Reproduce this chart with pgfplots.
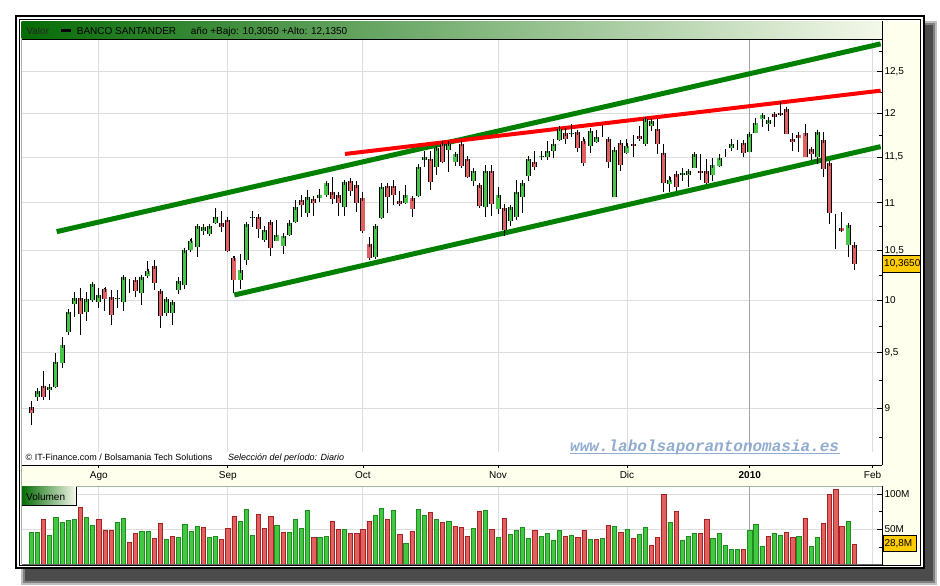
\documentclass[border=0pt]{standalone}
\usepackage{fontspec}
\setmainfont{Liberation Sans}
\newfontfamily\wmfont{Liberation Mono}
\usepackage{pgfplots}
\usepackage{pgfplotstable}
\pgfplotsset{compat=1.18}
\definecolor{cgreen}{RGB}{72,196,72}
\definecolor{cred}{RGB}{222,96,96}
\definecolor{vgreen}{RGB}{66,200,66}
\definecolor{vgreenD}{RGB}{30,140,30}
\definecolor{vred}{RGB}{226,96,96}
\definecolor{vredD}{RGB}{165,35,35}
\definecolor{gridc}{RGB}{221,221,221}
\definecolor{gridy}{RGB}{165,165,165}
\definecolor{tgreen}{RGB}{0,128,0}
\definecolor{tred}{RGB}{255,0,0}
\definecolor{paleyel}{RGB}{255,255,238}
\definecolor{gold}{RGB}{255,204,0}
\definecolor{hdark}{RGB}{6,108,6}
\definecolor{hlight}{RGB}{244,248,234}
\definecolor{wm}{RGB}{145,172,208}
\definecolor{frameline}{RGB}{160,180,160}

\pgfplotstableread{
x O H L C V g
0 9.01 9.06 8.85 8.96 45.8 1
1 9.10 9.18 9.06 9.15 45.8 1
2 9.20 9.33 9.07 9.10 64.2 0
3 9.16 9.20 9.07 9.19 41.5 1
4 9.19 9.50 9.18 9.42 67.0 1
5 9.41 9.65 9.36 9.57 59.9 1
6 9.70 9.90 9.67 9.89 62.7 1
7 9.96 10.08 9.84 10.02 64.2 1
8 10.02 10.12 9.67 9.87 81.1 0
9 9.89 10.08 9.80 10.01 67.0 1
10 10.00 10.18 9.98 10.16 55.7 1
11 9.98 10.12 9.93 10.05 64.2 0
12 10.11 10.12 9.90 10.01 49.1 0
13 10.03 10.10 9.76 9.86 49.1 0
14 10.01 10.10 9.93 10.02 59.9 1
15 9.98 10.25 9.90 10.23 65.6 1
16 10.17 10.21 10.07 10.17 31.6 0
17 10.20 10.23 10.03 10.09 44.3 0
18 10.07 10.25 9.95 10.23 47.2 1
19 10.24 10.39 10.22 10.29 47.2 1
20 10.34 10.40 10.10 10.17 37.3 0
21 10.09 10.10 9.73 9.85 58.5 0
22 9.88 10.01 9.85 10.01 35.8 1
23 9.88 9.99 9.76 9.98 40.1 0
24 10.10 10.23 10.06 10.19 38.7 1
25 10.15 10.50 10.11 10.50 57.1 1
26 10.50 10.62 10.48 10.60 47.2 1
27 10.53 10.76 10.43 10.75 54.2 1
28 10.70 10.77 10.66 10.74 52.8 0
29 10.67 10.76 10.65 10.75 38.7 1
30 10.78 10.94 10.77 10.85 40.1 1
31 10.78 10.91 10.69 10.74 35.8 0
32 10.82 10.83 10.48 10.49 51.4 0
33 10.42 10.44 10.07 10.20 68.4 0
34 10.20 10.46 10.11 10.30 61.3 1
35 10.40 10.77 10.35 10.77 78.3 1
36 10.84 10.91 10.74 10.85 41.5 1
37 10.85 10.86 10.63 10.72 71.2 0
38 10.61 10.75 10.59 10.71 51.4 0
39 10.79 10.79 10.44 10.52 68.4 0
40 10.60 10.81 10.60 10.66 55.7 1
41 10.54 10.67 10.46 10.65 45.8 0
42 10.66 10.82 10.65 10.78 45.8 1
43 10.79 11.03 10.78 10.95 64.2 1
44 11.03 11.08 10.85 10.97 51.4 1
45 10.89 11.14 10.85 11.06 76.9 1
46 11.04 11.05 10.86 11.00 38.7 0
47 11.05 11.15 11.01 11.08 38.7 1
48 11.08 11.23 11.06 11.21 40.1 1
49 11.11 11.28 10.98 11.04 61.3 0
50 11.08 11.11 10.86 11.00 50.0 0
51 10.95 11.22 10.86 11.22 50.0 1
52 11.24 11.25 11.07 11.13 44.3 0
53 11.19 11.23 10.90 11.00 44.3 0
54 11.05 11.12 10.68 10.70 50.0 0
55 10.56 10.64 10.40 10.42 61.3 0
56 10.43 10.76 10.41 10.75 69.8 1
57 10.84 11.21 10.83 11.17 79.7 1
58 11.18 11.19 10.89 11.06 64.2 0
59 11.18 11.25 10.97 11.08 76.9 1
60 11.02 11.13 10.96 10.99 42.9 0
61 11.00 11.19 10.99 11.08 30.2 1
62 11.05 11.06 10.85 10.93 47.2 0
63 11.07 11.39 11.06 11.39 78.3 1
64 11.47 11.57 11.39 11.50 69.8 1
65 11.48 11.57 11.14 11.22 74.1 0
66 11.39 11.61 11.30 11.60 64.2 1
67 11.65 11.66 11.43 11.45 59.9 0
68 11.58 11.66 11.33 11.65 61.3 1
69 11.45 11.56 11.40 11.53 54.2 0
70 11.65 11.67 11.38 11.40 52.8 0
71 11.48 11.48 11.27 11.28 40.1 0
72 11.24 11.38 11.18 11.35 51.4 1
73 11.19 11.20 10.94 10.96 75.5 0
74 10.95 11.41 10.85 11.35 76.9 1
75 11.35 11.41 10.86 10.99 50.0 0
76 10.93 11.17 10.88 11.08 38.7 1
77 10.94 10.99 10.65 10.71 65.6 0
78 10.80 10.97 10.75 10.95 42.9 1
79 10.85 11.25 10.82 11.12 48.6 1
80 11.06 11.25 10.89 11.21 52.8 1
81 11.29 11.48 11.24 11.48 37.3 1
82 11.45 11.57 11.36 11.39 48.6 0
83 11.50 11.57 11.47 11.51 40.1 1
84 11.50 11.68 11.47 11.57 44.3 1
85 11.57 11.70 11.49 11.65 34.4 1
86 11.69 11.85 11.68 11.82 48.6 1
87 11.77 11.83 11.65 11.70 40.1 0
88 11.76 11.88 11.73 11.77 41.5 1
89 11.78 11.79 11.56 11.60 38.7 0
90 11.68 11.73 11.40 11.43 48.6 0
91 11.63 11.82 11.55 11.80 35.8 1
92 11.67 11.81 11.66 11.73 35.8 0
93 11.84 11.87 11.73 11.84 37.3 1
94 11.70 11.73 11.38 11.44 55.7 0
95 11.06 11.58 11.06 11.58 54.2 1
96 11.66 11.69 11.34 11.41 45.8 0
97 11.55 11.70 11.53 11.63 50.0 1
98 11.65 11.75 11.50 11.62 37.3 0
99 11.74 11.85 11.68 11.71 42.9 1
100 11.65 11.95 11.62 11.93 52.8 1
101 11.85 11.93 11.80 11.91 27.4 0
102 11.82 11.93 11.54 11.65 38.7 0
103 11.55 11.65 11.12 11.21 99.5 0
104 11.20 11.29 11.12 11.25 59.9 1
105 11.31 11.35 11.13 11.17 75.5 0
106 11.30 11.38 11.24 11.32 34.4 1
107 11.30 11.37 11.17 11.34 40.1 1
108 11.38 11.53 11.38 11.53 44.3 1
109 11.35 11.53 11.25 11.32 44.3 0
110 11.34 11.48 11.20 11.21 64.2 0
111 11.30 11.49 11.23 11.41 37.3 1
112 11.40 11.54 11.39 11.49 44.3 1
113 11.55 11.59 11.50 11.55 27.4 1
114 11.60 11.70 11.57 11.65 21.7 1
115 11.65 11.69 11.58 11.65 21.7 1
116 11.66 11.66 11.50 11.55 21.7 0
117 11.56 11.76 11.56 11.76 48.6 1
118 11.77 11.95 11.77 11.89 57.1 1
119 11.93 12.00 11.84 11.98 25.9 1
120 11.88 11.96 11.80 11.92 40.1 0
121 11.99 12.00 11.84 11.96 44.3 1
122 12.00 12.135 11.97 11.98 41.5 1
123 12.05 12.06 11.76 11.76 45.8 0
124 11.71 11.77 11.57 11.67 38.7 0
125 11.75 11.78 11.56 11.72 40.1 1
126 11.77 11.88 11.50 11.50 65.6 0
127 11.59 11.59 11.47 11.54 25.9 1
128 11.50 11.79 11.42 11.78 38.7 1
129 11.69 11.79 11.28 11.37 58.5 0
130 11.43 11.44 10.77 10.89 99.5 0
131 10.85 10.86 10.51 10.85 106.6 0
132 10.73 10.90 10.69 10.70 54.2 0
133 10.55 10.77 10.43 10.76 61.3 1
134 10.55 10.59 10.305 10.365 28.8 0
}\data

\begin{document}
\begin{tikzpicture}[x=1pt,y=1pt,font=\fontsize{10}{12}\selectfont]
\path[fill=white] (0,0) rectangle (940,586);
% shadow
\fill[black!25] (21,1) rectangle (937,565);
\fill[black!50] (23,3) rectangle (935,563);
\fill[black!70] (25,5) rectangle (933,561);
% frame
\fill[white] (16,17.7) rectangle (923.7,570);
\draw[black, line width=2pt] (16,17.7) rectangle (923.7,570);
\draw[black, line width=0.9pt] (19.2,21) rectangle (920.7,566.8);
% panels
\fill[paleyel] (882,21.5) rectangle (920.2,564.5);
\fill[paleyel] (21.5,100) rectangle (882,121);
\shade[left color=hdark, right color=hlight] (21.5,547) rectangle (882,564.5);
\draw[frameline, line width=0.8pt] (21.5,21.5) -- (21.5,547);

% ---------------- price panel ----------------
\begin{axis}[
  at={(21.5pt,121pt)}, anchor=south west,
  width=860.5pt, height=426pt, scale only axis,
  xmin=-1.596, xmax=138.53,
  ymode=log, ymin=8.5155, ymax=12.905,
  axis x line*=bottom, axis y line*=right,
  x axis line style={-, black, line width=0.8pt},
  y axis line style={-, black, line width=0.8pt},
  tick align=inside,
  xtick={11,32,54,76,97,117,137},
  xticklabels={Ago,Sep,Oct,Nov,Dic,\textbf{2010},Feb},
  xtick style={draw=none},
  xticklabel style={anchor=base, yshift=-14pt, inner sep=0pt},
  ytick={9,9.5,10,10.5,11,11.5,12,12.5},
  yticklabels={9,{9,5},10,{10,5},11,{11,5},12,{12,5}},
  minor ytick={8.75,9.25,9.75,10.25,10.75,11.25,11.75,12.25,12.75},
  ytick style={black, line width=0.8pt},
  major tick length=5.5pt, minor tick length=3pt,
  yticklabel style={anchor=west, inner sep=0pt, xshift=2.3pt},
  tick label style={font=\fontsize{10}{12}\selectfont},
  ymajorgrids, major grid style={gridc, line width=0.9pt},
]
\draw[gridc, line width=0.9pt] (axis cs:11,8.627) -- (axis cs:11,12.905);
\draw[gridc, line width=0.9pt] (axis cs:32,8.627) -- (axis cs:32,12.905);
\draw[gridc, line width=0.9pt] (axis cs:54,8.627) -- (axis cs:54,12.905);
\draw[gridc, line width=0.9pt] (axis cs:76,8.627) -- (axis cs:76,12.905);
\draw[gridc, line width=0.9pt] (axis cs:97,8.627) -- (axis cs:97,12.905);
\draw[gridc, line width=0.9pt] (axis cs:137,8.627) -- (axis cs:137,12.905);
\draw[gridy, line width=0.9pt] (axis cs:117,8.627) -- (axis cs:117,12.905);
% trend lines
\addplot[tgreen, line width=5pt] coordinates {(4.136,10.693) (138.31,12.843)};
\addplot[tgreen, line width=5pt] coordinates {(33.06,10.052) (138.31,11.618)};
\addplot[tred, line width=4pt] coordinates {(51.08,11.535) (138.31,12.27)};
% wicks
\addplot[draw=none, mark=none,
  error bars/.cd, y dir=plus, y explicit, error mark=none,
  error bar style={draw=black, line width=1pt}]
  table[x=x, y=L, y error expr={\thisrow{H}-\thisrow{L}}] {\data};
% body outlines
\addplot[draw=none, mark=none,
  error bars/.cd, y dir=plus, y explicit, error mark=none,
  error bar style={draw=black, line width=5pt}]
  table[x=x, y expr={min(\thisrow{O},\thisrow{C})}, y error expr={abs(\thisrow{C}-\thisrow{O})}] {\data};
% green bodies
\addplot[draw=none, mark=none,
  restrict expr to domain={\thisrow{C}-\thisrow{O}}{0:10},
  error bars/.cd, y dir=plus, y explicit, error mark=-,
  error bar style={draw=cgreen, line width=3.2pt},
  error mark options={draw=black, line width=0.9pt, mark size=2.5pt}]
  table[x=x, y expr={min(\thisrow{O},\thisrow{C})}, y error expr={abs(\thisrow{C}-\thisrow{O})}] {\data};
% red bodies
\addplot[draw=none, mark=none,
  restrict expr to domain={\thisrow{C}-\thisrow{O}}{-10:-0.0001},
  error bars/.cd, y dir=plus, y explicit, error mark=-,
  error bar style={draw=cred, line width=3.2pt},
  error mark options={draw=black, line width=0.9pt, mark size=2.5pt}]
  table[x=x, y expr={min(\thisrow{O},\thisrow{C})}, y error expr={abs(\thisrow{C}-\thisrow{O})}] {\data};
\end{axis}

% ---------------- volume panel ----------------
\begin{axis}[
  at={(21.5pt,21.3pt)}, anchor=south west,
  width=860.5pt, height=78.7pt, scale only axis,
  xmin=-1.596, xmax=138.53, ymin=0, ymax=111.3,
  axis x line=none, axis y line*=right,
  y axis line style={-, black, line width=0.8pt},
  tick align=inside,
  ytick={50,100}, yticklabels={50M,100M},
  minor ytick={25,75},
  ytick style={black, line width=0.8pt},
  major tick length=5.5pt, minor tick length=3pt,
  yticklabel style={anchor=west, inner sep=0pt, xshift=2.3pt},
  tick label style={font=\fontsize{10}{12}\selectfont},
  ymajorgrids, major grid style={gridc, line width=0.9pt},
]
\draw[gridc, line width=0.9pt] (axis cs:11,0) -- (axis cs:11,111.3);
\draw[gridc, line width=0.9pt] (axis cs:32,0) -- (axis cs:32,111.3);
\draw[gridc, line width=0.9pt] (axis cs:54,0) -- (axis cs:54,111.3);
\draw[gridc, line width=0.9pt] (axis cs:76,0) -- (axis cs:76,111.3);
\draw[gridc, line width=0.9pt] (axis cs:97,0) -- (axis cs:97,111.3);
\draw[gridc, line width=0.9pt] (axis cs:137,0) -- (axis cs:137,111.3);
\draw[gridy, line width=0.9pt] (axis cs:117,0) -- (axis cs:117,111.3);
\addplot[ybar, bar width=4.2pt, bar shift=0pt, fill=vgreen, draw=vgreenD, line width=0.7pt,
  restrict expr to domain={\thisrow{g}}{0.5:1.5}] table[x=x, y=V] {\data};
\addplot[ybar, bar width=4.2pt, bar shift=0pt, fill=vred, draw=vredD, line width=0.7pt,
  restrict expr to domain={\thisrow{g}}{-0.5:0.5}] table[x=x, y=V] {\data};
\end{axis}

% ---------------- decorations ----------------
\draw[black, line width=0.9pt] (21.5,547) -- (882,547);
\draw[black, line width=0.8pt] (882,547) -- (882,564.5);
\draw[frameline, line width=0.8pt] (21.5,100) -- (882,100);
\draw[black!60, line width=0.8pt] (21.5,21.5) -- (882,21.5);
\draw[black, line width=0.8pt] (882,21.5) -- (882,100);
\foreach \p in {98.85,227.8,362.9,498.0,627.0,749.8,872.6}
  \draw[black, line width=0.8pt] (\p,121) -- (\p,118.3);

% header text
\node[anchor=base west, inner sep=0pt, text=black!85] at (26.3,551.7) {Valor};
\fill[black] (61,553.7) rectangle (70.7,556.7);
\node[anchor=base west, inner sep=0pt] at (76.7,551.7) {BANCO SANTANDER};
\node[anchor=base west, inner sep=0pt] at (190.7,551.7) {año +Bajo: 10,3050 +Alto: 12,1350};

% source line
\node[anchor=base west, inner sep=0pt, font=\fontsize{9}{11}\selectfont] at (25.5,125) {© IT-Finance.com / Bolsamania Tech Solutions};
\node[anchor=base west, inner sep=0pt, font=\fontsize{9}{11}\selectfont\itshape] at (228,125) {Selección del período: Diario};

% watermark
\node[anchor=base west, inner sep=0pt, text=wm, font=\wmfont\bfseries\itshape\fontsize{16}{18}\selectfont] at (570,134.5) {www.labolsaporantonomasia.es};
\draw[wm, line width=1.2pt] (570,132.3) -- (839.5,132.3);

% last price box
\fill[gold] (882.3,313.7) rectangle (920.3,330.3);
\begin{scope}
\clip (882.3,313.7) rectangle (920.3,330.3);
\node[anchor=west, inner sep=0pt] at (884,322) {10,3650};
\end{scope}
\draw[black, line width=0.8pt] (882.3,313.7) rectangle (920.3,330.3);

% last volume box
\fill[gold] (883,34.7) rectangle (916,50.7);
\draw[black, line width=0.8pt] (883,34.7) rectangle (916,50.7);
\node[anchor=west, inner sep=0pt] at (884.3,42.7) {28,8M};

% Volumen label
\shade[left color=hdark, right color=hlight] (22,80.3) rectangle (76,99.3);
\draw[black, line width=0.7pt] (22,80.3) -- (76,80.3) -- (76,99.3);
\node[anchor=base west, inner sep=0pt] at (26,85.3) {Volumen};
\end{tikzpicture}
\end{document}
